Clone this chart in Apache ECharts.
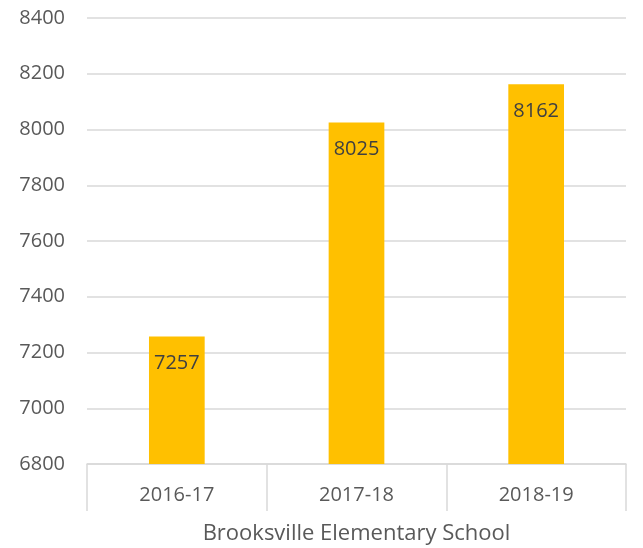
<!DOCTYPE html>
<html><head><meta charset="utf-8">
<script src="https://cdn.jsdelivr.net/npm/echarts@6/dist/echarts.min.js"></script>
<style>html,body{margin:0;padding:0;background:#fff}#c{width:643px;height:548px}</style>
</head><body><div id="c"></div>
<script>
const categories = ['2016-17', '2017-18', '2018-19'];
const values = [7257, 8025, 8162];
const axisTitle = 'Brooksville Elementary School';
const yMin = 6800, yMax = 8400, yStep = 200;

const chart = echarts.init(document.getElementById('c'));
const font = 'Open Sans';
chart.setOption({
  animation: false,
  grid: { left: 87, right: 17, top: 18, bottom: 84, containLabel: false, outerBoundsMode: 'none' },
  xAxis: {
    type: 'category', data: categories,
    axisLine: { lineStyle: { color: '#d9d9d9', width: 1.5 } },
    axisTick: { show: true, length: 47, interval: 0, lineStyle: { color: '#d9d9d9', width: 1.5 } },
    axisLabel: { color: '#595959', fontSize: 20, fontFamily: font, margin: 21 },
    name: axisTitle, nameLocation: 'middle', nameGap: 59,
    nameTextStyle: { color: '#595959', fontSize: 22, fontFamily: font }
  },
  yAxis: {
    type: 'value', min: yMin, max: yMax, interval: yStep,
    axisLine: { show: false }, axisTick: { show: false },
    splitLine: { lineStyle: { color: '#d9d9d9', width: 1.5 } },
    axisLabel: { color: '#595959', fontSize: 20, fontFamily: font, margin: 22, formatter: v => String(v) }
  },
  series: [{
    type: 'bar', data: values, barWidth: '31%',
    itemStyle: { color: '#FFC000' },
    label: { show: true, position: 'insideTop', distance: 17, color: '#404040', fontSize: 20, fontFamily: font }
  }]
});
</script></body></html>
